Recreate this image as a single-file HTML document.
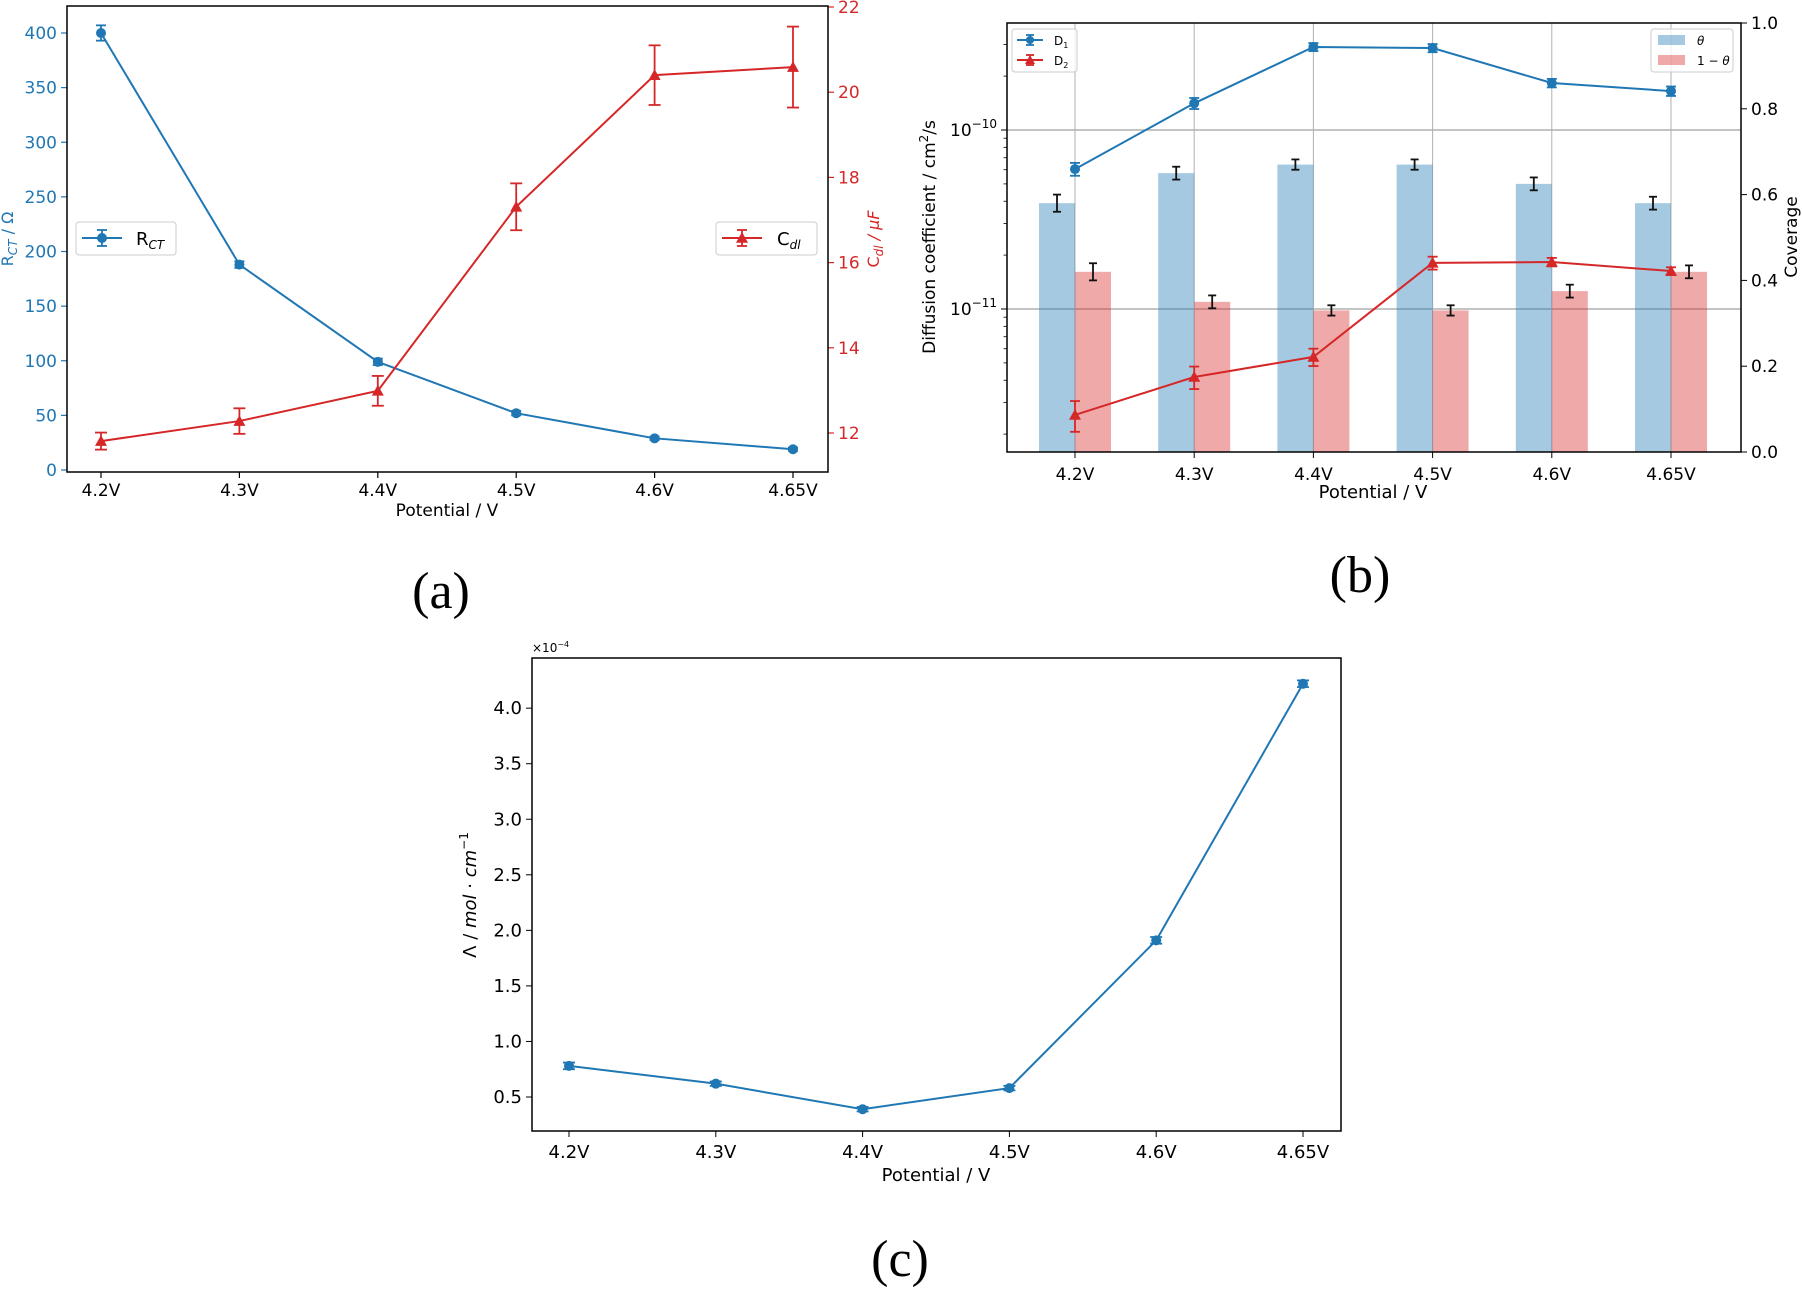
<!DOCTYPE html>
<html><head><meta charset="utf-8"><style>
html,body{margin:0;padding:0;background:#fff;}
svg{display:block;font-family:"DejaVu Sans","Liberation Sans",sans-serif;}
</style></head><body>
<svg id="fig" width="1802" height="1290" viewBox="0 0 1802 1290" xmlns="http://www.w3.org/2000/svg"></svg>
<script>
const categories = ["4.2V","4.3V","4.4V","4.5V","4.6V","4.65V"];
// panel a
const rctValues = [400,188,99,52,29,19];
const rctErr = [7,3,3,2,1.5,1.5];
const cdlValues = [11.81,12.28,12.99,17.31,20.40,20.59];
const cdlErr = [0.2,0.3,0.35,0.55,0.7,0.95];
const rctTicks = [0,50,100,150,200,250,300,350,400];
const cdlTicks = [12,14,16,18,20,22];
// panel b
const d1Values = [6.05e-11,1.41e-10,2.91e-10,2.87e-10,1.83e-10,1.65e-10];
const d1Err = [0.5e-11,0.1e-10,0.15e-10,0.15e-10,0.1e-10,0.1e-10];
const d2Values = [2.56e-12,4.17e-12,5.4e-12,1.81e-11,1.83e-11,1.63e-11];
const d2Err = [0.5e-12,0.6e-12,0.6e-12,0.15e-11,0.1e-11,0.08e-11];
const thetaValues = [0.58,0.65,0.67,0.67,0.625,0.58];
const thetaErr = [0.02,0.015,0.012,0.012,0.015,0.015];
const oneMinusTheta = [0.42,0.35,0.33,0.33,0.375,0.42];
const omtErr = [0.02,0.015,0.012,0.012,0.015,0.015];
const coverageTicks = [0.0,0.2,0.4,0.6,0.8,1.0];
// panel c
const lambdaValues = [0.78,0.62,0.39,0.58,1.91,4.22];
const lambdaErr = [0.03,0.02,0.02,0.02,0.03,0.03];
const lambdaTicks = [0.5,1.0,1.5,2.0,2.5,3.0,3.5,4.0];

const NS="http://www.w3.org/2000/svg";
const svg=document.getElementById('fig');
function mk(tag,attrs,name,parent){
  const el=document.createElementNS(NS,tag);
  for(const k in attrs) el.setAttribute(k,attrs[k]);
  
  
  (parent||svg).appendChild(el);
  return el;
}
function txt(x,y,s,attrs,name){
  const t=mk('text',Object.assign({x:x,y:y},attrs),name);
  t.innerHTML=s;
  return t;
}
const BLUE="#1f77b4", RED="#d62728";
function errbar(x,y1,y2,col,cap,name,w){
  mk('line',{x1:x,x2:x,y1:y1,y2:y2,stroke:col,'stroke-width':w||1.8},name);
  mk('line',{x1:x-cap,x2:x+cap,y1:y1,y2:y1,stroke:col,'stroke-width':w||1.8},name+'-cap');
  mk('line',{x1:x-cap,x2:x+cap,y1:y2,y2:y2,stroke:col,'stroke-width':w||1.8},name+'-cap');
}
function tri(x,y,r,col,name){
  mk('polygon',{points:`${x},${y-r} ${x-r},${y+r*0.8} ${x+r},${y+r*0.8}`,fill:col},name);
}

// ================= PANEL A =================
(function(){
  const L=67,R=828,T=6,B=472;
  const xA=i=>101+i*138.4;
  const yR=v=>470-v*1.0925;
  const yC=v=>433-(v-12)*42.6;
  categories.forEach((c,i)=>{
    mk('line',{x1:xA(i),x2:xA(i),y1:B,y2:B+6,stroke:'#000','stroke-width':1.2},'a-x-tick');
    txt(xA(i),B+24,c,{'font-size':17,'text-anchor':'middle'},'a-x-tick-label');
  });
  rctTicks.forEach(v=>{
    mk('line',{x1:L-6,x2:L,y1:yR(v),y2:yR(v),stroke:BLUE,'stroke-width':1.2},'a-left-tick');
    txt(L-10,yR(v)+6,v,{'font-size':17,'text-anchor':'end',fill:BLUE},'a-left-tick-label');
  });
  cdlTicks.forEach(v=>{
    mk('line',{x1:R,x2:R+6,y1:yC(v),y2:yC(v),stroke:RED,'stroke-width':1.2},'a-right-tick');
    txt(R+10,yC(v)+6,v,{'font-size':17,fill:RED},'a-right-tick-label');
  });
  mk('polyline',{points:rctValues.map((v,i)=>xA(i)+','+yR(v)).join(' '),fill:'none',stroke:BLUE,'stroke-width':2},'rct-line');
  rctValues.forEach((v,i)=>{
    errbar(xA(i),yR(v-rctErr[i]),yR(v+rctErr[i]),BLUE,5,'rct-error-bar');
    mk('circle',{cx:xA(i),cy:yR(v),r:5,fill:BLUE},'rct-point');
  });
  mk('polyline',{points:cdlValues.map((v,i)=>xA(i)+','+yC(v)).join(' '),fill:'none',stroke:RED,'stroke-width':2},'cdl-line');
  cdlValues.forEach((v,i)=>{
    errbar(xA(i),yC(v-cdlErr[i]),yC(v+cdlErr[i]),RED,6,'cdl-error-bar');
    tri(xA(i),yC(v),6,RED,'cdl-point');
  });
  mk('rect',{x:L,y:T,width:R-L,height:B-T,fill:'none',stroke:'#000','stroke-width':1.5},'a-axes-frame');
  mk('rect',{x:76,y:222,width:100,height:33,rx:3,fill:'#fff','fill-opacity':0.8,stroke:'#ccc'},'rct-legend-box');
  mk('line',{x1:82,x2:122,y1:238,y2:238,stroke:BLUE,'stroke-width':2},'rct-legend-line');
  errbar(102,230,246,BLUE,5,'rct-legend-err');
  mk('circle',{cx:102,cy:238,r:5,fill:BLUE},'rct-legend-marker');
  txt(136,245,'R<tspan font-size="12" font-style="italic" dy="4">CT</tspan>',{'font-size':18},'rct-legend-label');
  mk('rect',{x:716,y:222,width:101,height:33,rx:3,fill:'#fff','fill-opacity':0.8,stroke:'#ccc'},'cdl-legend-box');
  mk('line',{x1:722,x2:762,y1:238,y2:238,stroke:RED,'stroke-width':2},'cdl-legend-line');
  errbar(742,230,246,RED,5,'cdl-legend-err');
  tri(742,238,6,RED,'cdl-legend-marker');
  txt(777,245,'C<tspan font-size="12" font-style="italic" dy="4">dl</tspan>',{'font-size':18},'cdl-legend-label');
  txt(0,0,'R<tspan font-size="12" font-style="italic" dy="4">CT</tspan><tspan dy="-4"> / Ω</tspan>',{'font-size':16,fill:BLUE,'text-anchor':'middle',transform:'translate(13,239) rotate(-90)'},'rct-axis-title');
  txt(0,0,'C<tspan font-size="12" font-style="italic" dy="4">dl</tspan><tspan dy="-4" font-style="italic"> / μF</tspan>',{'font-size':16,fill:RED,'text-anchor':'middle',transform:'translate(879,239) rotate(-90)'},'cdl-axis-title');
  txt(447,516,'Potential / V',{'font-size':17,'text-anchor':'middle'},'a-x-axis-title');
  txt(441,608,'(a)',{'font-size':52,'text-anchor':'middle','font-family':'Liberation Serif, serif'},'panel-a-caption');
})();

// ================= PANEL B =================
(function(){
  const L=1007,R=1741,T=23,B=452;
  const xB=i=>1075+i*119.2;
  const yLog=v=>130-(Math.log10(v)+10)*179;
  const yCov=v=>452-v*429;
  const bw=36;
  categories.forEach((c,i)=>mk('line',{x1:xB(i),x2:xB(i),y1:T,y2:B,stroke:'#b0b0b0','stroke-width':1},'b-v-grid'));
  [1e-10,1e-11].forEach(v=>mk('line',{x1:L,x2:R,y1:yLog(v),y2:yLog(v),stroke:'#b0b0b0','stroke-width':1.5},'b-h-grid'));
  thetaValues.forEach((v,i)=>{
    mk('rect',{x:xB(i)-bw,y:yCov(v),width:bw,height:yCov(0)-yCov(v),fill:'#1f77b4','fill-opacity':0.4},'theta-bar');
    errbar(xB(i)-bw/2,yCov(v-thetaErr[i]),yCov(v+thetaErr[i]),'#111',4,'theta-error-bar',1.8);
  });
  oneMinusTheta.forEach((v,i)=>{
    mk('rect',{x:xB(i),y:yCov(v),width:bw,height:yCov(0)-yCov(v),fill:'#d62728','fill-opacity':0.4},'one-minus-theta-bar');
    errbar(xB(i)+bw/2,yCov(v-omtErr[i]),yCov(v+omtErr[i]),'#111',4,'omt-error-bar',1.8);
  });
  mk('polyline',{points:d1Values.map((v,i)=>xB(i)+','+yLog(v)).join(' '),fill:'none',stroke:BLUE,'stroke-width':2},'d1-line');
  d1Values.forEach((v,i)=>{
    errbar(xB(i),yLog(v-d1Err[i]),yLog(v+d1Err[i]),BLUE,5,'d1-error-bar');
    mk('circle',{cx:xB(i),cy:yLog(v),r:5,fill:BLUE},'d1-point');
  });
  mk('polyline',{points:d2Values.map((v,i)=>xB(i)+','+yLog(v)).join(' '),fill:'none',stroke:RED,'stroke-width':2},'d2-line');
  d2Values.forEach((v,i)=>{
    errbar(xB(i),yLog(v-d2Err[i]),yLog(v+d2Err[i]),RED,5,'d2-error-bar');
    tri(xB(i),yLog(v),6,RED,'d2-point');
  });
  categories.forEach((c,i)=>{
    mk('line',{x1:xB(i),x2:xB(i),y1:B,y2:B+6,stroke:'#000'},'b-x-tick');
    txt(xB(i),B+28,c,{'font-size':17,'text-anchor':'middle'},'b-x-tick-label');
  });
  [1e-10,1e-11].forEach(v=>{
    mk('line',{x1:L-6,x2:L,y1:yLog(v),y2:yLog(v),stroke:'#000'},'b-left-tick');
  });
  txt(L-10,yLog(1e-10)+6,'10<tspan font-size="12" dy="-8">−10</tspan>',{'font-size':17,'text-anchor':'end'},'b-left-tick-label');
  txt(L-10,yLog(1e-11)+6,'10<tspan font-size="12" dy="-8">−11</tspan>',{'font-size':17,'text-anchor':'end'},'b-left-tick-label');
  [-12,-11,-10].forEach(e=>{for(let m=2;m<=9;m++){const v=m*Math.pow(10,e);const y=yLog(v);if(y>T&&y<B)mk('line',{x1:L-3.5,x2:L,y1:y,y2:y,stroke:'#000','stroke-width':0.8},'b-minor-tick');}});
  coverageTicks.forEach(v=>{
    mk('line',{x1:R,x2:R+6,y1:yCov(v),y2:yCov(v),stroke:'#000'},'b-right-tick');
    txt(R+10,yCov(v)+6,v.toFixed(1),{'font-size':17},'b-right-tick-label');
  });
  mk('rect',{x:L,y:T,width:R-L,height:B-T,fill:'none',stroke:'#000','stroke-width':1.5},'b-axes-frame');
  mk('rect',{x:1012,y:29,width:65,height:43,rx:3,fill:'#fff','fill-opacity':0.8,stroke:'#ccc'},'d-legend-box');
  mk('line',{x1:1017,x2:1043,y1:40,y2:40,stroke:BLUE,'stroke-width':2},'d1-legend-line');
  errbar(1030,35,45,BLUE,4,'d1-legend-err');
  mk('circle',{cx:1030,cy:40,r:4,fill:BLUE},'d1-legend-marker');
  txt(1054,45,'D<tspan font-size="8" dy="3">1</tspan>',{'font-size':12},'d1-legend-label');
  mk('line',{x1:1017,x2:1043,y1:60,y2:60,stroke:RED,'stroke-width':2},'d2-legend-line');
  errbar(1030,55,65,RED,4,'d2-legend-err');
  tri(1030,60,5,RED,'d2-legend-marker');
  txt(1054,65,'D<tspan font-size="8" dy="3">2</tspan>',{'font-size':12},'d2-legend-label');
  mk('rect',{x:1651,y:29,width:82,height:43,rx:3,fill:'#fff','fill-opacity':0.8,stroke:'#ccc'},'coverage-legend-box');
  mk('rect',{x:1658,y:35,width:27,height:10,fill:BLUE,'fill-opacity':0.4},'theta-legend-swatch');
  txt(1697,45,'θ',{'font-size':12,'font-style':'italic'},'theta-legend-label');
  mk('rect',{x:1658,y:55,width:27,height:10,fill:RED,'fill-opacity':0.4},'omt-legend-swatch');
  txt(1697,65,'1 − <tspan font-style="italic">θ</tspan>',{'font-size':12},'omt-legend-label');
  txt(0,0,'Diffusion coefficient / cm<tspan font-size="12" dy="-7">2</tspan><tspan dy="7">/s</tspan>',{'font-size':17,'text-anchor':'middle',transform:'translate(935,237) rotate(-90)'},'b-left-axis-title');
  txt(0,0,'Coverage',{'font-size':17,'text-anchor':'middle',transform:'translate(1797,237) rotate(-90)'},'b-right-axis-title');
  txt(1373,498,'Potential / V',{'font-size':18,'text-anchor':'middle'},'b-x-axis-title');
  txt(1360,592,'(b)',{'font-size':52,'text-anchor':'middle','font-family':'Liberation Serif, serif'},'panel-b-caption');
})();

// ================= PANEL C =================
(function(){
  const L=532,R=1341,T=658,B=1131;
  const xC=i=>569+i*146.8;
  const yC=v=>1097-(v-0.5)*111.1;
  categories.forEach((c,i)=>{
    mk('line',{x1:xC(i),x2:xC(i),y1:B,y2:B+6,stroke:'#000'},'c-x-tick');
    txt(xC(i),B+27,c,{'font-size':18,'text-anchor':'middle'},'c-x-tick-label');
  });
  lambdaTicks.forEach(v=>{
    mk('line',{x1:L-6,x2:L,y1:yC(v),y2:yC(v),stroke:'#000'},'c-y-tick');
    txt(L-10,yC(v)+6,v.toFixed(1),{'font-size':18,'text-anchor':'end'},'c-y-tick-label');
  });
  mk('polyline',{points:lambdaValues.map((v,i)=>xC(i)+','+yC(v)).join(' '),fill:'none',stroke:BLUE,'stroke-width':2},'lambda-line');
  lambdaValues.forEach((v,i)=>{
    errbar(xC(i),yC(v-lambdaErr[i]),yC(v+lambdaErr[i]),BLUE,6,'lambda-error-bar');
    mk('circle',{cx:xC(i),cy:yC(v),r:5,fill:BLUE},'lambda-point');
  });
  mk('rect',{x:L,y:T,width:R-L,height:B-T,fill:'none',stroke:'#000','stroke-width':1.5},'c-axes-frame');
  txt(L,652,'×10<tspan font-size="8" dy="-5">−4</tspan>',{'font-size':12},'c-offset-label');
  txt(0,0,'Λ / <tspan font-style="italic">mol</tspan> · <tspan font-style="italic">cm</tspan><tspan font-size="12" dy="-8">−1</tspan>',{'font-size':18,'text-anchor':'middle',transform:'translate(476,895) rotate(-90)'},'c-y-axis-title');
  txt(936,1181,'Potential / V',{'font-size':18,'text-anchor':'middle'},'c-x-axis-title');
  txt(900,1276,'(c)',{'font-size':52,'text-anchor':'middle','font-family':'Liberation Serif, serif'},'panel-c-caption');
})();
</script>
</body></html>
